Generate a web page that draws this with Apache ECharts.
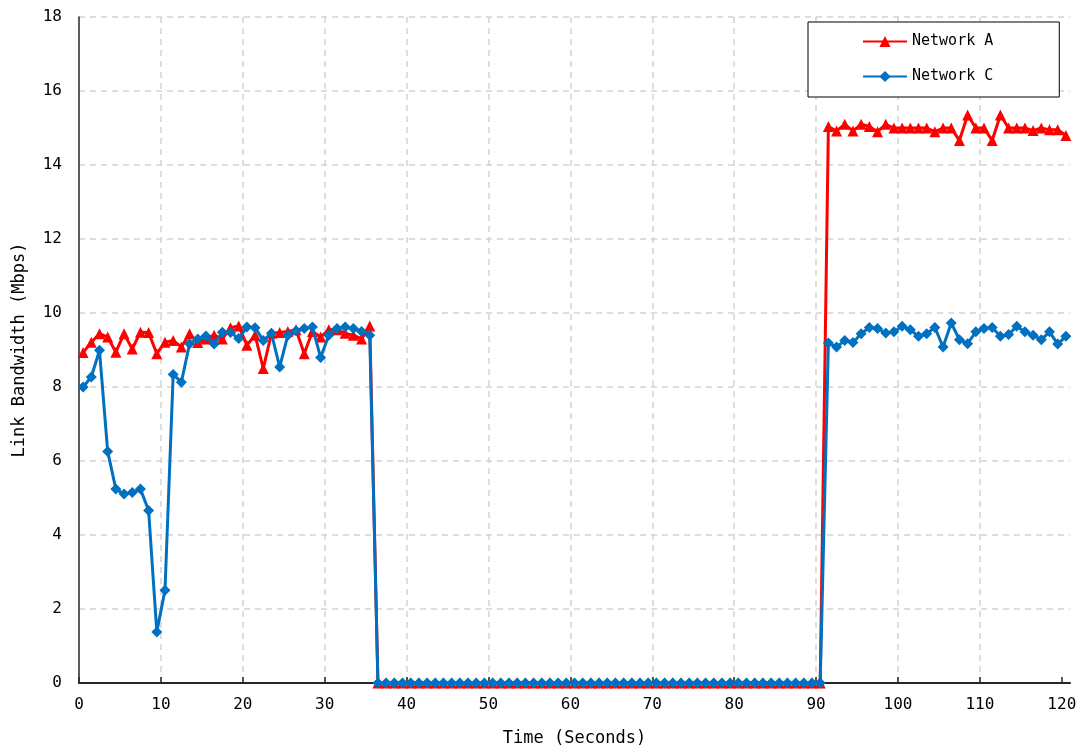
<!DOCTYPE html>
<html>
<head>
<meta charset="utf-8">
<script src="https://cdn.jsdelivr.net/npm/echarts@6/dist/echarts.min.js"></script>
<style>
  html, body { margin: 0; padding: 0; background: #ffffff; }
  #chart { width: 1089px; height: 752px; }
</style>
</head>
<body>
<div id="chart"></div>
<script>
// One sample per second, taken at the middle of each second
const sampleStart = 0.5;
const sampleStep = 1;

const seriesNames = ['Network A', 'Network C'];

// Link bandwidth, Mbps
const networkA = [
  8.93, 9.21, 9.44, 9.35, 8.94, 9.44, 9.03, 9.48, 9.47, 8.90,
  9.21, 9.26, 9.08, 9.44, 9.20, 9.30, 9.40, 9.30, 9.60, 9.65,
  9.13, 9.40, 8.50, 9.45, 9.47, 9.50, 9.55, 8.90, 9.50, 9.35,
  9.55, 9.55, 9.45, 9.40, 9.30, 9.65,
  0, 0, 0, 0, 0, 0, 0, 0, 0, 0, 0, 0, 0, 0, 0, 0, 0, 0, 0, 0,
  0, 0, 0, 0, 0, 0, 0, 0, 0, 0, 0, 0, 0, 0, 0, 0, 0, 0, 0, 0,
  0, 0, 0, 0, 0, 0, 0, 0, 0, 0, 0, 0, 0, 0, 0,
  15.04, 14.92, 15.10, 14.92, 15.10, 15.04, 14.90, 15.10, 15.00, 15.00,
  15.00, 15.00, 15.00, 14.90, 15.00, 15.00, 14.66, 15.35, 15.00, 15.00,
  14.66, 15.35, 15.00, 15.00, 15.00, 14.93, 15.00, 14.95, 14.95, 14.80
];

const networkC = [
  8.00, 8.27, 8.99, 6.26, 5.24, 5.11, 5.15, 5.24, 4.66, 1.38,
  2.51, 8.34, 8.13, 9.17, 9.30, 9.38, 9.16, 9.48, 9.47, 9.31,
  9.62, 9.60, 9.26, 9.45, 8.54, 9.40, 9.52, 9.58, 9.62, 8.80,
  9.40, 9.58, 9.62, 9.58, 9.50, 9.40,
  0, 0, 0, 0, 0, 0, 0, 0, 0, 0, 0, 0, 0, 0, 0, 0, 0, 0, 0, 0,
  0, 0, 0, 0, 0, 0, 0, 0, 0, 0, 0, 0, 0, 0, 0, 0, 0, 0, 0, 0,
  0, 0, 0, 0, 0, 0, 0, 0, 0, 0, 0, 0, 0, 0, 0,
  9.19, 9.08, 9.26, 9.20, 9.44, 9.61, 9.58, 9.46, 9.49, 9.64,
  9.55, 9.37, 9.44, 9.61, 9.08, 9.73, 9.28, 9.17, 9.49, 9.58,
  9.61, 9.37, 9.42, 9.64, 9.49, 9.40, 9.28, 9.49, 9.16, 9.37
];

const xTicks = [0, 10, 20, 30, 40, 50, 60, 70, 80, 90, 100, 110, 120];

const FONT = '"DejaVu Sans Mono", "Liberation Mono", monospace';

function pairs(values) {
  return values.map((v, i) => [sampleStart + i * sampleStep, v]);
}

const chart = echarts.init(document.getElementById('chart'), null, { renderer: 'canvas' });

const gridLineStyle = { color: '#d4d4d4', width: 1.5, type: [6, 5] };

chart.setOption({
  animation: false,
  backgroundColor: '#ffffff',
  grid: { left: 79, right: 19, top: 17, bottom: 69, containLabel: false },
  legend: {
    orient: 'vertical',
    left: 808,
    top: 22,
    padding: [12, 66, 13, 54],
    itemWidth: 44,
    itemHeight: 14,
    itemGap: 20,
    backgroundColor: '#ffffff',
    borderColor: '#000000',
    borderWidth: 1,
    borderRadius: 0,
    textStyle: { fontFamily: FONT, fontSize: 15, color: '#000000' },
    data: seriesNames
  },
  xAxis: {
    type: 'value',
    min: 0,
    max: 121,
    name: 'Time (Seconds)',
    nameLocation: 'middle',
    nameGap: 47,
    nameTextStyle: { fontFamily: FONT, fontSize: 17, color: '#000000' },
    axisLine: { show: true, onZero: false, lineStyle: { color: '#262626', width: 2 } },
    axisTick: { show: true, inside: true, length: 6, customValues: xTicks, lineStyle: { color: '#262626', width: 1.5 } },
    axisLabel: { customValues: xTicks, margin: 14, fontFamily: FONT, fontSize: 16, color: '#000000' },
    splitLine: { show: true, showMinLine: false, showMaxLine: false, lineStyle: gridLineStyle }
  },
  yAxis: {
    type: 'value',
    min: 0,
    max: 18,
    interval: 2,
    name: 'Link Bandwidth (Mbps)',
    nameLocation: 'middle',
    nameGap: 51,
    nameTextStyle: { fontFamily: FONT, fontSize: 17, color: '#000000' },
    axisLine: { show: true, lineStyle: { color: '#262626', width: 1.5 } },
    axisTick: { show: false },
    axisLabel: { margin: 17, fontFamily: FONT, fontSize: 16, color: '#000000' },
    splitLine: { show: true, lineStyle: gridLineStyle }
  },
  series: [
    {
      name: seriesNames[0],
      type: 'line',
      data: pairs(networkA),
      symbol: 'triangle',
      symbolSize: 11,
      showAllSymbol: true,
      lineStyle: { color: '#ff0000', width: 3 },
      itemStyle: { color: '#ff0000' },
      z: 2
    },
    {
      name: seriesNames[1],
      type: 'line',
      data: pairs(networkC),
      symbol: 'diamond',
      symbolSize: 11,
      showAllSymbol: true,
      lineStyle: { color: '#0070c0', width: 3 },
      itemStyle: { color: '#0070c0' },
      z: 3
    }
  ]
});
</script>
</body>
</html>
